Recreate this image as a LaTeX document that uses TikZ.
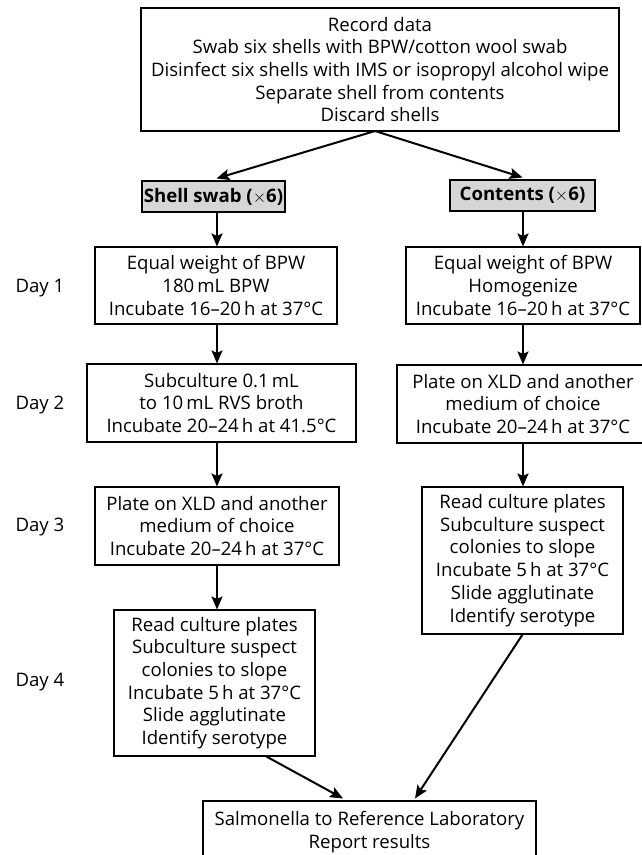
\documentclass[tikz,border=0pt]{standalone}
\usepackage{fontspec}
\setmainfont{Open Sans}
\usetikzlibrary{arrows.meta,calc}
\begin{document}
\begin{tikzpicture}[x=1pt,y=-1pt,
  txt/.style={font=\fontsize{18.6}{22.7}\selectfont, align=center},
  box/.style={txt, draw=black, line width=1.1pt, inner sep=0pt},
  graybox/.style={box, fill=black!16, font=\fontsize{18.6}{20}\selectfont\bfseries},
  arr/.style={line width=2pt, -{Stealth[length=13pt,width=11pt,inset=2.5pt]}},
  day/.style={txt, anchor=west}]
\useasboundingbox (0,0) rectangle (641,855);

\node[box, minimum width=478pt, minimum height=123pt] (top) at (380,69.5)
  {Record data\\Swab six shells with BPW/cotton wool swab\\Disinfect six shells with IMS or isopropyl alcohol wipe\\Separate shell from contents\\Discard shells};

\node[graybox, minimum width=143pt, minimum height=31pt] (shell) at (213.5,196.5) {Shell swab ($\times$6)};
\node[graybox, minimum width=145pt, minimum height=31pt] (cont) at (522.5,195.5) {Contents ($\times$6)};

\node[box, minimum width=242pt, minimum height=77pt] (d1l) at (216,285.5)
  {Equal weight of BPW\\180\,mL BPW\\Incubate 16--20\,h at 37°C};
\node[box, minimum width=234pt, minimum height=77pt] (d1r) at (523,285.5)
  {Equal weight of BPW\\Homogenize\\Incubate 16--20\,h at 37°C};

\node[box, minimum width=269pt, minimum height=78pt] (d2l) at (221.5,403)
  {Subculture 0.1\,mL\\to 10\,mL RVS broth\\Incubate 20--24\,h at 41.5°C};
\node[box, minimum width=252pt, minimum height=78pt] (d2r) at (523,404)
  {Plate on XLD and another\\medium of choice\\Incubate 20--24\,h at 37°C};

\node[box, minimum width=244pt, minimum height=78pt] (d3l) at (217,526)
  {Plate on XLD and another\\medium of choice\\Incubate 20--24\,h at 37°C};
\node[box, minimum width=201pt, minimum height=147pt] (d3r) at (522.5,560.5)
  {Read culture plates\\Subculture suspect\\colonies to slope\\Incubate 5\,h at 37°C\\Slide agglutinate\\Identify serotype};

\node[box, minimum width=201pt, minimum height=146pt] (d4l) at (214.5,683)
  {Read culture plates\\Subculture suspect\\colonies to slope\\Incubate 5\,h at 37°C\\Slide agglutinate\\Identify serotype};

\node[box, minimum width=333pt, minimum height=62pt] (bot) at (369.5,832)
  {Salmonella to Reference Laboratory\\Report results};

\node[day] (day1) at (12,288) {Day 1};
\node[day] (day2) at (12,405) {Day 2};
\node[day] (day3) at (12,527) {Day 3};
\node[day] (day4) at (12,682) {Day 4};

\coordinate (split) at (375,131);
\coordinate (colL) at (217,0);
\coordinate (colR) at (523,0);
\coordinate (d4out) at ($(d4l.south)+(52,0)$);
\coordinate (botL) at ($(bot.north)+(-26.5,-2)$);
\coordinate (botR) at ($(bot.north)+(45.5,-2)$);

\draw[arr] (split) -- ($(shell.north)+(3,-2)$);
\draw[arr] (split) -- ($(cont.north)+(0,-2)$);
\draw[arr] (shell.south -| colL) -- (d1l.north -| colL);
\draw[arr] (cont.south -| colR) -- (d1r.north -| colR);
\draw[arr] (d1l.south -| colL) -- (d2l.north -| colL);
\draw[arr] (d1r.south -| colR) -- (d2r.north -| colR);
\draw[arr] (d2l.south -| colL) -- (d3l.north -| colL);
\draw[arr] (d2r.south -| colR) -- (d3r.north -| colR);
\draw[arr] (d3l.south -| colL) -- (d4l.north -| colL);
\draw[arr] (d4out) -- (botL);
\draw[arr] (d3r.south) -- (botR);
\end{tikzpicture}
\end{document}
